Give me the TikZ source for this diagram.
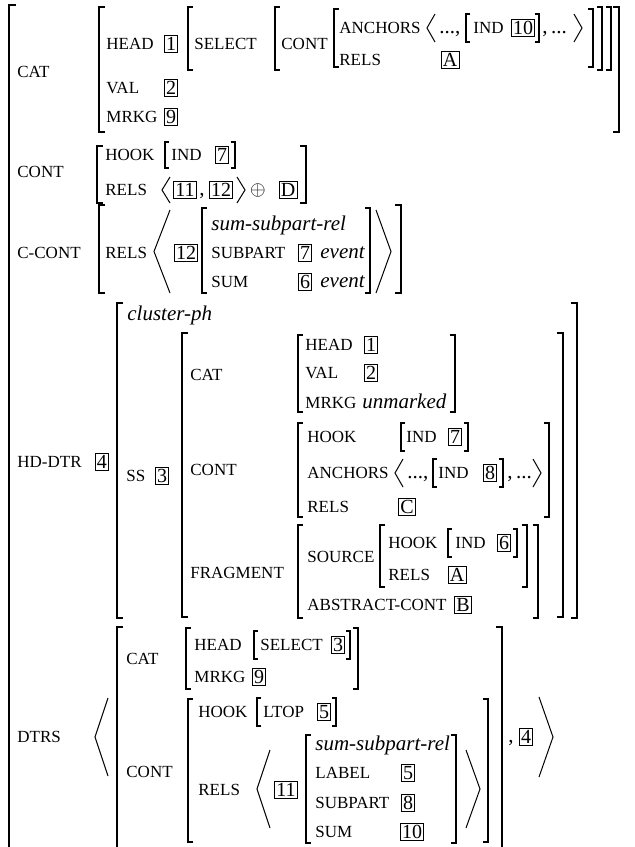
\documentclass[tikz,border=0pt]{standalone}
\usepackage{fontspec}
\setmainfont{Liberation Serif}
\usepackage{tikz}

\begin{document}
\begin{tikzpicture}[x=0.5pt, y=-0.5pt,
	lab/.style={anchor=west, inner sep=0pt, text height=5.4pt, text depth=0pt, font=\fontsize{8.5}{10}\selectfont},
	typ/.style={anchor=west, inner sep=0pt, text height=5.4pt, text depth=0pt, font=\fontsize{10.5}{12}\selectfont\itshape},
	txt/.style={anchor=west, inner sep=0pt, text height=5.4pt, text depth=0pt, font=\fontsize{10.5}{12}\selectfont},
	tag/.style={draw, line width=0.4pt, inner sep=0.9pt, text height=6.8pt, text depth=0pt, font=\fontsize{10}{12}\selectfont},
	brak/.style={line width=0.65pt},
	ang/.style={line width=0.5pt}]
	\useasboundingbox (0,0) rectangle (635,847);
	\clip (0,0) rectangle (635,847);
	
	% left brackets: x/top/bottom/tick
	\foreach \x/\a/\b/\t in {9/5/870/7, 99/7/132/6, 188/7/70/5, 275/7/70/5, 334/9/67/5, 466/14/42/4,
		97/146/203/6, 165/142/168/4, 99/205/293/6, 202/208/293/5,
		117/303/618/6, 182/333/617/6, 298/335/412/5, 298/423/517/5, 401/423/451/4, 433/459/487/4,
		298/525/618/5, 380/525/587/5, 448/529/557/4,
		117/627/870/6, 186/628/689/5, 254/631/659/4, 188/699/842/5, 257/698/726/4, 306/735/843/5} {
		\draw[brak] (\x+\t,\a) -- (\x,\a) -- (\x,\b) -- (\x+\t,\b);
	}
	% right brackets
	\foreach \x/\a/\b/\t in {619/7/132/6, 611/7/70/5, 602/7/70/5, 593/9/67/5, 539/14/42/4,
		306/146/203/6, 235/142/168/4, 401/205/293/6, 370/208/293/5,
		577/303/618/6, 563/333/617/6, 455/335/412/5, 549/423/517/5, 468/423/451/4, 503/459/487/4,
		538/525/618/5, 527/525/587/5, 517/529/557/4,
		502/627/870/6, 358/628/689/5, 350/631/659/4, 488/699/842/5, 336/698/726/4, 456/735/843/5} {
		\draw[brak] (\x-\t,\a) -- (\x,\a) -- (\x,\b) -- (\x-\t,\b);
	}
	% angle brackets: x/width/top/bottom
	\foreach \x/\w/\a/\b in {427/8/14/42, 162/8/177/203, 154/16/210/293, 395/8/459/487, 95/13/698/776, 257/13/750/828} {
		\draw[ang] ({\x+\w},\a) -- (\x,{(\a+\b)/2}) -- ({\x+\w},\b);
	}
	\foreach \x/\w/\a/\b in {574/8/14/42, 237/8/177/203, 376/15/210/293, 533/8/459/487, 466/14/750/828, 539/14/697/777} {
		\draw[ang] (\x,\a) -- ({\x+\w},{(\a+\b)/2}) -- (\x,\b);
	}
	
	% cat
	\node[lab] (cat) at (17,72) {CAT};
	\node[lab] (head) at (106,44) {HEAD};
	\node[tag] (t1) at (171,44) {1};
	\node[lab] (select) at (194,44) {SELECT};
	\node[lab] (cont) at (281,44) {CONT};
	\node[lab] (anch) at (339,28) {ANCHORS};
	\node[txt] (dl) at (439,28) {...,};
	\node[lab] (ind) at (473,28) {IND};
	\node[tag] (t10) at (523,28) {10};
	\node[txt] (dr) at (542,28) {,\,...};
	\node[lab] (rels) at (339,60) {RELS};
	\node[tag] (tA) at (450,60) {A};
	\node[lab] (val) at (106,88) {VAL};
	\node[tag] (t2) at (171,88) {2};
	\node[lab] (mrkg) at (106,117) {MRKG};
	\node[tag] (t9) at (171,117) {9};
	
	% cont
	\node[lab] (cont2) at (17,172) {CONT};
	\node[lab] (hook) at (105,155) {HOOK};
	\node[lab] (ind2) at (171,155) {IND};
	\node[tag] (t7) at (222,155) {7};
	\node[lab] (rels2) at (105,190) {RELS};
	\node[tag] (t11) at (185,190) {11};
	\node[txt] (comma) at (199,190) {,};
	\node[tag] (t12) at (221,190) {12};
	\node (oplus) at (258,190) {$\oplus$};
	\node[tag] (tD) at (288,190) {D};
	
	% c-cont
	\node[lab] (ccont) at (17,253) {C-CONT};
	\node[lab] (rels3) at (105,253) {RELS};
	\node[tag] (t12b) at (186,253) {12};
	\node[typ] (ssr) at (211,225) {sum-subpart-rel};
	\node[lab] (subpart) at (211,253) {SUBPART};
	\node[tag] (t7b) at (305,253) {7};
	\node[typ] (ev1) at (320,253) {event};
	\node[lab] (sum) at (211,282) {SUM};
	\node[tag] (t6) at (305,282) {6};
	\node[typ] (ev2) at (320,282) {event};
	
	% hd-dtr
	\node[lab] (hddtr) at (17,462) {HD-DTR};
	\node[tag] (t4) at (102,462) {4};
	\node[typ] (clph) at (127,315) {cluster-ph};
	\node[lab] (ss) at (126,476) {SS};
	\node[tag] (t3) at (162,476) {3};
	\node[lab] (cat3) at (190,375) {CAT};
	\node[lab] (head3) at (305,345) {HEAD};
	\node[tag] (t1b) at (371,345) {1};
	\node[lab] (val3) at (305,373) {VAL};
	\node[tag] (t2b) at (371,373) {2};
	\node[lab] (mrkg3) at (305,403) {MRKG};
	\node[typ] (unm) at (362,403) {unmarked};
	\node[lab] (cont3) at (190,470) {CONT};
	\node[lab] (hook3) at (307,437) {HOOK};
	\node[lab] (ind3) at (406,437) {IND};
	\node[tag] (t7c) at (455,437) {7};
	\node[lab] (anch3) at (307,473) {ANCHORS};
	\node[txt] (dl3) at (407,473) {...,};
	\node[lab] (ind4) at (438,473) {IND};
	\node[tag] (t8) at (490,473) {8};
	\node[txt] (dr3) at (507,473) {,\,...};
	\node[lab] (rels4) at (307,507) {RELS};
	\node[tag] (tC) at (407,507) {C};
	\node[lab] (frag) at (190,573) {FRAGMENT};
	\node[lab] (source) at (307,557) {SOURCE};
	\node[lab] (hook4) at (388,543) {HOOK};
	\node[lab] (ind5) at (455,543) {IND};
	\node[tag] (t6b) at (504,543) {6};
	\node[lab] (rels5) at (388,575) {RELS};
	\node[tag] (tA2) at (457,575) {A};
	\node[lab] (abscont) at (307,605) {ABSTRACT-CONT};
	\node[tag] (tB) at (463,605) {B};
	
	% dtrs
	\node[lab] (dtrs) at (17,737) {DTRS};
	\node[lab] (cat4) at (126,659) {CAT};
	\node[lab] (head4) at (194,645) {HEAD};
	\node[lab] (select4) at (260,645) {SELECT};
	\node[tag] (t3b) at (338,645) {3};
	\node[lab] (mrkg4) at (194,677) {MRKG};
	\node[tag] (t9b) at (259,677) {9};
	\node[lab] (cont4) at (126,772) {CONT};
	\node[lab] (hook5) at (198,712) {HOOK};
	\node[lab] (ltop) at (263,712) {LTOP};
	\node[tag] (t5) at (324,712) {5};
	\node[lab] (rels6) at (198,790) {RELS};
	\node[tag] (t11b) at (286,790) {11};
	\node[typ] (ssr2) at (315,745) {sum-subpart-rel};
	\node[lab] (label) at (315,773) {LABEL};
	\node[tag] (t5b) at (408,773) {5};
	\node[lab] (subpart2) at (315,803) {SUBPART};
	\node[tag] (t8b) at (408,803) {8};
	\node[lab] (sum2) at (315,832) {SUM};
	\node[tag] (t10b) at (412,832) {10};
	\node[txt] (comma2) at (508,737) {,};
	\node[tag] (t4b) at (526,737) {4};
\end{tikzpicture}
\end{document}
